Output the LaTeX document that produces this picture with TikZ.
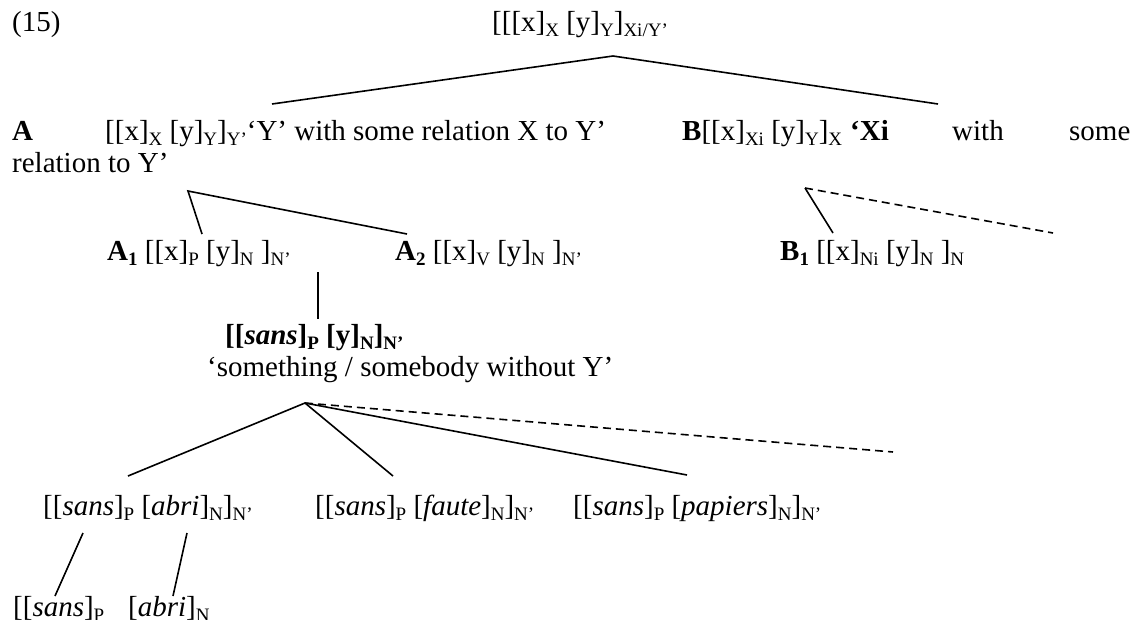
\documentclass[tikz,border=0pt]{standalone}
\usepackage{fontspec}
\setmainfont{Liberation Serif}
\newcommand{\sbs}[1]{\raisebox{-0.19em}{\fontsize{19}{19}\selectfont #1}}
\begin{document}
\begin{tikzpicture}[x=1pt,y=-1pt,
  txt/.style={anchor=base west,inner sep=0pt,font=\fontsize{29}{33}\selectfont},
  edge/.style={line width=1.6pt},
  dedge/.style={line width=1.6pt,dash pattern=on 8pt off 5pt}]
\useasboundingbox (0,0) rectangle (1142,619);
% texts
\node[txt] (n15) at (12,31) {(15)};
\node[txt] (root) at (492,31) {[[[x]\sbs{X} [y]\sbs{Y}]\sbs{Xi/Y’}};
\node[txt] (Alab) at (12,140) {\textbf{A}};
\node[txt] (Atext) at (105,140) {[[x]\sbs{X} [y]\sbs{Y}]\sbs{Y’}‘Y’ with some relation X to Y’};
\node[txt] (Btext) at (682,140) {\textbf{B}[[x]\sbs{Xi} [y]\sbs{Y}]\sbs{X}};
\node[txt] (Bq) at (850,140) {\textbf{‘Xi}};
\node[txt] (Bw) at (952,140) {with};
\node[txt] (Bs) at (1069,140) {some};
\node[txt] (Arel) at (12,172) {relation to Y’};
\node[txt] (A1) at (107,260) {\textbf{A\sbs{1}} [[x]\sbs{P} [y]\sbs{N} ]\sbs{N’}};
\node[txt] (A2) at (395,260) {\textbf{A\sbs{2}} [[x]\sbs{V} [y]\sbs{N} ]\sbs{N’}};
\node[txt] (B1) at (780,260) {\textbf{B\sbs{1}} [[x]\sbs{Ni} [y]\sbs{N} ]\sbs{N}};
\node[txt] (bold) at (225,344) {\textbf{[[\textit{sans}]\sbs{P} [y]\sbs{N}]\sbs{N’}}};
\node[txt] (smth) at (207,376) {‘something / somebody without Y’};
\node[txt] (s1) at (43,515) {[[\textit{sans}]\sbs{P} [\textit{abri}]\sbs{N}]\sbs{N’}};
\node[txt] (s2) at (315,515) {[[\textit{sans}]\sbs{P} [\textit{faute}]\sbs{N}]\sbs{N’}};
\node[txt] (s3) at (573,515) {[[\textit{sans}]\sbs{P} [\textit{papiers}]\sbs{N}]\sbs{N’}};
\node[txt] (s4) at (13,616) {[[\textit{sans}]\sbs{P}};
\node[txt] (s5) at (128,616) {[\textit{abri}]\sbs{N}};
% connector points
\coordinate (rootA) at (613,56);
\coordinate (rootL) at (272,104);
\coordinate (rootR) at (938,104);
\coordinate (Aap) at (188,191);
\coordinate (A1t) at (202,234);
\coordinate (A2t) at (407,234);
\coordinate (Bap) at (805,188);
\coordinate (B1t) at (833,233);
\coordinate (Bdt) at (1053,233);
\coordinate (Vt) at (318,272);
\coordinate (Vb) at (318,319);
\coordinate (Fap) at (305,403);
\coordinate (F1) at (128,476);
\coordinate (F2) at (393,476);
\coordinate (F3) at (687,475);
\coordinate (F4) at (893,452);
\coordinate (L1t) at (83,533);
\coordinate (L1b) at (55,596);
\coordinate (L2t) at (187,533);
\coordinate (L2b) at (173,596);
% connectors
\draw[edge] (rootL) -- (rootA) -- (rootR);
\draw[edge] (A1t) -- (Aap) -- (A2t);
\draw[edge] (B1t) -- (Bap);
\draw[dedge] (Bap) -- (Bdt);
\draw[edge] (Vt) -- (Vb);
\draw[edge] (F1) -- (Fap) -- (F2);
\draw[edge] (Fap) -- (F3);
\draw[dedge] (Fap) -- (F4);
\draw[edge] (L1t) -- (L1b);
\draw[edge] (L2t) -- (L2b);
\end{tikzpicture}
\end{document}
